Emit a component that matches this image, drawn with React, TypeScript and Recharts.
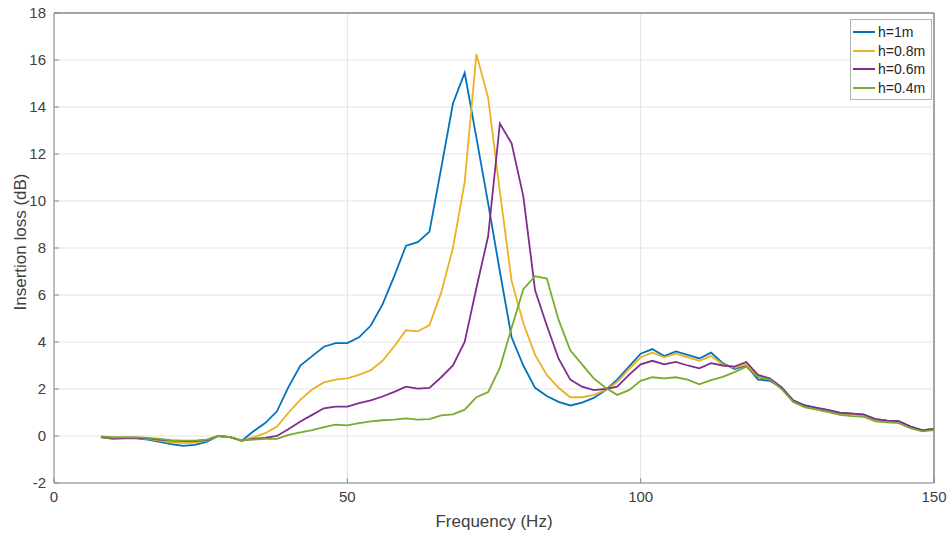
import { CartesianGrid, Line, LineChart, ReferenceLine, XAxis, YAxis } from 'recharts'

const freq = [
  8, 10, 12, 14, 16, 18, 20, 22, 24, 26, 28, 30, 32, 34, 36, 38, 40, 42, 44, 46, 48, 50, 52, 54,
  56, 58, 60, 62, 64, 66, 68, 70, 72, 74, 76, 78, 80, 82, 84, 86, 88, 90, 92, 94, 96, 98, 100,
  102, 104, 106, 108, 110, 112, 114, 116, 118, 120, 122, 124, 126, 128, 130, 132, 134, 136, 138,
  140, 142, 144, 146, 148, 150,
]

const h1 = [
  -0.05, -0.12, -0.1, -0.1, -0.15, -0.25, -0.35, -0.42, -0.38, -0.25, 0.0, -0.05, -0.2, 0.2, 0.55,
  1.05, 2.1, 3.0, 3.4, 3.8, 3.95, 3.95, 4.2, 4.7, 5.6, 6.8, 8.1, 8.25, 8.7, 11.4, 14.15, 15.45,
  12.7, 9.9, 7.0, 4.2, 3.0, 2.05, 1.7, 1.45, 1.3, 1.42, 1.62, 1.95, 2.4, 2.95, 3.5, 3.7, 3.4, 3.6,
  3.45, 3.3, 3.55, 3.1, 2.85, 3.0, 2.4, 2.35, 2.05, 1.5, 1.3, 1.2, 1.1, 0.98, 0.95, 0.9, 0.72,
  0.65, 0.62, 0.4, 0.25, 0.3,
]

const h08 = [
  -0.05, -0.1, -0.08, -0.08, -0.12, -0.2, -0.27, -0.3, -0.28, -0.2, 0.0, -0.05, -0.2, -0.05, 0.12,
  0.4, 1.0, 1.55, 1.98, 2.28, 2.4, 2.45, 2.6, 2.8, 3.2, 3.82, 4.5, 4.45, 4.72, 6.1, 8.0, 10.8,
  16.25, 14.4, 10.4, 6.6, 4.8, 3.45, 2.6, 2.05, 1.65, 1.65, 1.75, 1.95, 2.3, 2.85, 3.35, 3.55,
  3.35, 3.5, 3.35, 3.2, 3.4, 3.05, 2.9, 3.05, 2.5, 2.42, 2.05, 1.5, 1.28, 1.18, 1.08, 0.95, 0.92,
  0.88, 0.7, 0.63, 0.6, 0.38, 0.23, 0.3,
]

const h06 = [
  -0.05, -0.08, -0.08, -0.08, -0.1, -0.15, -0.2, -0.22, -0.22, -0.17, 0.0, -0.05, -0.2, -0.12,
  -0.08, 0.0, 0.3, 0.62, 0.9, 1.18, 1.25, 1.25, 1.4, 1.52, 1.68, 1.88, 2.1, 2.02, 2.05, 2.5, 3.0,
  4.0, 6.3, 8.5, 13.3, 12.45, 10.2, 6.2, 4.7, 3.3, 2.4, 2.1, 1.95, 2.0, 2.1, 2.6, 3.05, 3.2, 3.05,
  3.15, 3.0, 2.88, 3.1, 3.0, 2.95, 3.15, 2.6, 2.45, 2.08, 1.52, 1.3, 1.2, 1.1, 0.98, 0.95, 0.92,
  0.72, 0.65, 0.63, 0.4, 0.24, 0.3,
]

const h04 = [
  -0.02, -0.05, -0.05, -0.05, -0.08, -0.12, -0.18, -0.2, -0.2, -0.15, 0.0, -0.05, -0.18, -0.15,
  -0.12, -0.12, 0.05, 0.15, 0.25, 0.38, 0.48, 0.45, 0.55, 0.62, 0.67, 0.7, 0.75, 0.7, 0.72, 0.88,
  0.92, 1.12, 1.65, 1.87, 2.9, 4.6, 6.25, 6.8, 6.7, 4.95, 3.65, 3.05, 2.45, 2.05, 1.75, 1.95, 2.35,
  2.5, 2.45, 2.5, 2.4, 2.2, 2.38, 2.52, 2.72, 2.95, 2.5, 2.4, 2.0, 1.45, 1.22, 1.12, 1.02, 0.9,
  0.85, 0.82, 0.62, 0.58, 0.55, 0.33, 0.2, 0.25,
]

const xTicks = [0, 50, 100, 150]
const yTicks = [-2, 0, 2, 4, 6, 8, 10, 12, 14, 16, 18]

const series = [
  { key: 'h1', name: 'h=1m', color: '#0072BD' },
  { key: 'h08', name: 'h=0.8m', color: '#EDB120' },
  { key: 'h06', name: 'h=0.6m', color: '#7E2F8E' },
  { key: 'h04', name: 'h=0.4m', color: '#77AC30' },
]

const data = freq.map((f, i) => ({ f, h1: h1[i], h08: h08[i], h06: h06[i], h04: h04[i] }))

const font = '"Liberation Sans", Arial, sans-serif'
const axisColor = '#8a8a8a'
const textColor = '#404040'
const tickStyle = { fontSize: 15, fill: textColor, fontFamily: font }

function LegendBox() {
  return (
    <div
      style={{
        position: 'absolute',
        left: 850,
        top: 19,
        width: 82,
        padding: '3px 0 2px',
        background: '#fff',
        border: '1px solid #b0b0b0',
        fontFamily: font,
        fontSize: 14,
        color: '#262626',
        boxSizing: 'border-box',
      }}
    >
      {series.map((s) => (
        <div key={s.key} style={{ display: 'flex', alignItems: 'center', height: 18.5 }}>
          <span style={{ width: 22, height: 2, background: s.color, margin: '0 3px 0 2px' }} />
          <span>{s.name}</span>
        </div>
      ))}
    </div>
  )
}

export default function App() {
  return (
    <div style={{ position: 'absolute', left: 0, top: 0, width: 949, height: 533, background: '#fff' }}>
      <LineChart width={949} height={533} data={data} margin={{ top: 0, right: 0, bottom: 0, left: 0 }}>
        <CartesianGrid stroke="#e3e3e3" />
        <XAxis
          dataKey="f"
          type="number"
          domain={[0, 150]}
          ticks={xTicks}
          height={50}
          stroke={axisColor}
          tickSize={-5}
          tickMargin={13}
          tick={tickStyle}
          label={{
            value: 'Frequency (Hz)',
            position: 'insideBottom',
            offset: 6,
            style: { fontSize: 17, fill: textColor, fontFamily: font },
          }}
        />
        <XAxis
          xAxisId="top"
          orientation="top"
          type="number"
          domain={[0, 150]}
          ticks={xTicks}
          height={13}
          stroke={axisColor}
          tickSize={-5}
          tick={false}
        />
        <YAxis
          type="number"
          domain={[-2, 18]}
          ticks={yTicks}
          width={54}
          stroke={axisColor}
          tickSize={-5}
          tickMargin={13}
          tick={tickStyle}
          label={{
            value: 'Insertion loss (dB)',
            angle: -90,
            position: 'center',
            dx: -7,
            dy: -6,
            style: { fontSize: 17, fill: textColor, fontFamily: font, textAnchor: 'middle' },
          }}
        />
        <YAxis
          yAxisId="right"
          orientation="right"
          type="number"
          domain={[-2, 18]}
          ticks={yTicks}
          width={15}
          stroke={axisColor}
          tickSize={-5}
          tick={false}
        />
        {series.map((s) => (
          <Line
            key={s.key}
            dataKey={s.key}
            name={s.name}
            stroke={s.color}
            strokeWidth={1.8}
            dot={false}
            isAnimationActive={false}
          />
        ))}
        <ReferenceLine y={18} stroke={axisColor} />
        <ReferenceLine x={150} stroke={axisColor} />
      </LineChart>
      <LegendBox />
    </div>
  )
}
